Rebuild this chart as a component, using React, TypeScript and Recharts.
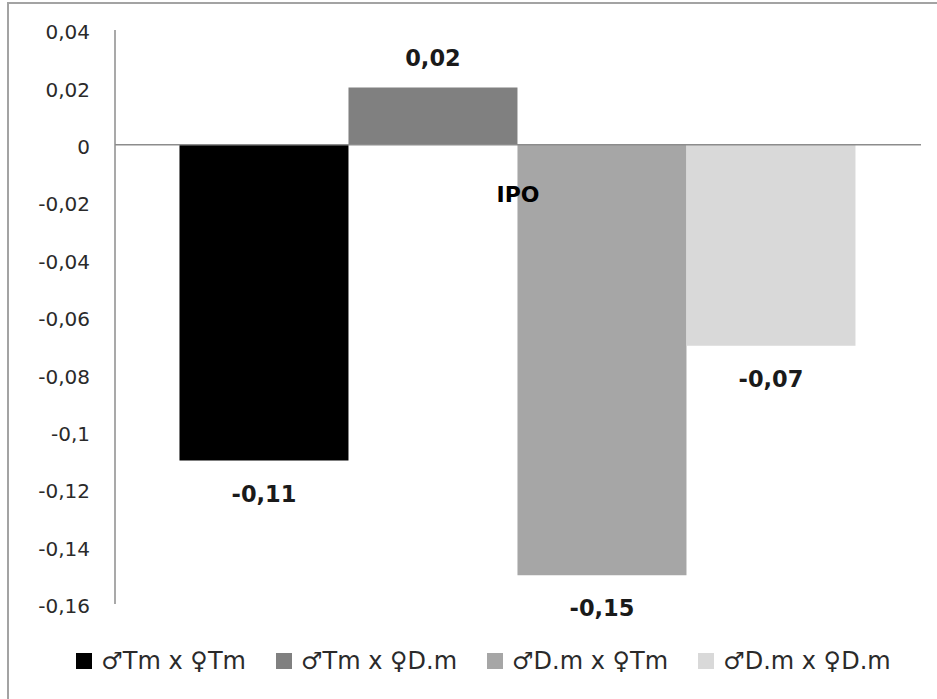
import React from 'react';
import { BarChart, Bar, XAxis, YAxis, ReferenceLine, LabelList, Legend } from 'recharts';

const categories = ['IPO'];
const seriesNames = ['♂Tm x ♀Tm', '♂Tm x ♀D.m', '♂D.m x ♀Tm', '♂D.m x ♀D.m'];
const seriesValues = [-0.11, 0.02, -0.15, -0.07];
const seriesColors = ['#000000', '#808080', '#a6a6a6', '#d9d9d9'];
const yTicks = [0.04, 0.02, 0, -0.02, -0.04, -0.06, -0.08, -0.1, -0.12, -0.14, -0.16];

const keys = seriesNames.map((_, i) => `s${i}`);
const data = categories.map((name) => {
  const row: any = { name };
  keys.forEach((k, i) => {
    row[k] = seriesValues[i];
  });
  return row;
});

const fmt = (v: number) => String(v).replace('.', ',');

const ValueLabel = (props: any) => {
  const vb = props.viewBox && props.viewBox.width !== undefined ? props.viewBox : props;
  const x = Number(vb.x);
  const y = Number(vb.y);
  const w = Number(vb.width);
  const h = Number(vb.height);
  const value = Number(props.value);
  const top = Math.min(y, y + h);
  const bottom = Math.max(y, y + h);
  const cy = value >= 0 ? top - 29 : bottom + 33;
  return (
    <text
      x={x + w / 2}
      y={cy}
      textAnchor="middle"
      dominantBaseline="central"
      fontFamily="DejaVu Sans"
      fontWeight="bold"
      fontSize={22.5}
      fill="#1a1a1a"
    >
      {fmt(value)}
    </text>
  );
};

const renderLegend = () => (
  <div
    style={{
      display: 'flex',
      justifyContent: 'center',
      alignItems: 'center',
      height: 30,
      paddingLeft: 30,
      boxSizing: 'border-box',
      fontFamily: 'DejaVu Sans',
      fontSize: 24,
      color: '#2a2a2a',
      whiteSpace: 'nowrap',
    }}
  >
    {seriesNames.map((n, i) => (
      <div key={n} style={{ display: 'flex', alignItems: 'center', marginRight: i < seriesNames.length - 1 ? 30 : 0 }}>
        <div style={{ width: 16, height: 16, background: seriesColors[i], marginRight: 9 }} />
        <span>{n}</span>
      </div>
    ))}
  </div>
);

export default function App() {
  return (
    <div style={{ position: 'absolute', left: 0, top: 0, width: 937, height: 699, overflow: 'hidden', background: '#fff' }}>
      <div
        style={{
          position: 'absolute',
          left: 7,
          top: 2,
          width: 960,
          height: 720,
          border: '2px solid #a3a3a3',
          boxSizing: 'border-box',
        }}
      />
      <div style={{ position: 'absolute', left: 0, top: 0 }}>
        <BarChart
          width={937}
          height={699}
          data={data}
          margin={{ top: 30, right: 16, left: 0, bottom: 65 }}
          barCategoryGap="8%"
          barGap={0}
        >
          <XAxis dataKey="name" hide />
          <YAxis
            type="number"
            domain={[-0.16, 0.04]}
            ticks={yTicks}
            interval={0}
            width={115}
            tickLine={false}
            tickSize={0}
            tickMargin={25}
            axisLine={{ stroke: '#8c8c8c', strokeWidth: 1.5 }}
            tickFormatter={fmt}
            tick={{ fill: '#2a2a2a', fontSize: 20, fontFamily: 'DejaVu Sans', dy: 2 }}
          />
          {keys.map((k, i) => (
            <Bar key={k} dataKey={k} name={seriesNames[i]} fill={seriesColors[i]} isAnimationActive={false}>
              <LabelList dataKey={k} content={ValueLabel} />
            </Bar>
          ))}
          <ReferenceLine
            y={0}
            stroke="#8c8c8c"
            strokeWidth={1.5}
            label={{
              value: categories[0],
              position: 'center',
              dy: 49,
              fill: '#000',
              fontSize: 22,
              fontWeight: 'bold',
              fontFamily: 'DejaVu Sans',
            }}
          />
          <Legend
            verticalAlign="bottom"
            content={renderLegend}
            wrapperStyle={{ top: 646, left: 0, width: 937, height: 30 }}
          />
        </BarChart>
      </div>
    </div>
  );
}
